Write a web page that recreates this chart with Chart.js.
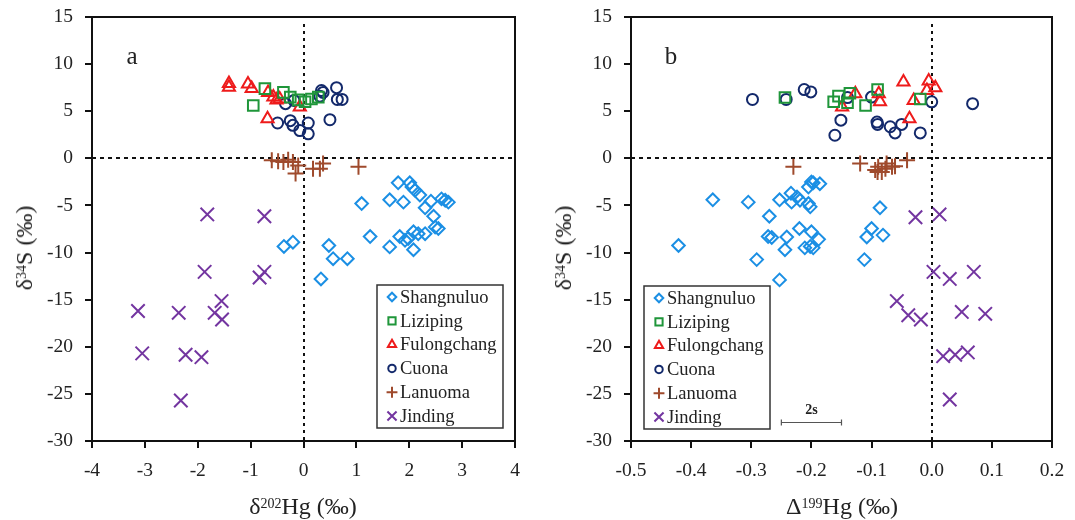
<!DOCTYPE html>
<html>
<head>
<meta charset="utf-8">
<script src="https://cdn.jsdelivr.net/npm/chart.js@4.4.1/dist/chart.umd.min.js"></script>
<style>
  body { margin: 0; background: #fff; }
  #wrap { position: relative; width: 1075px; height: 520px; font-family: "Liberation Serif", "Times New Roman", serif; color: #222; }
  canvas { position: absolute; top: 0; }
  .xt { position: absolute; top: 492px; font-size: 24px; line-height: 28px; transform: translateX(-50%); white-space: nowrap; }
  .yt { position: absolute; font-size: 24px; line-height: 28px; transform: translate(-50%, -50%) rotate(-90deg); white-space: nowrap; }
  .xt sup, .yt sup { font-size: 14px; position: relative; top: -2px; vertical-align: top; }
</style>
</head>
<body>
<div id="wrap">
  <canvas id="panelA" width="537" height="520" style="left:0"></canvas>
  <canvas id="panelB" width="538" height="520" style="left:537px"></canvas>
  <div class="xt" style="left:303px">δ<sup>202</sup>Hg (‰)</div>
  <div class="xt" style="left:842px">Δ<sup>199</sup>Hg (‰)</div>
  <div class="yt" style="left:24px;top:248px">δ<sup>34</sup>S (‰)</div>
  <div class="yt" style="left:563px;top:248px">δ<sup>34</sup>S (‰)</div>
</div>
<script>
// --- data ---
const yTicks = [-30, -25, -20, -15, -10, -5, 0, 5, 10, 15];
const xTicksA = [-4, -3, -2, -1, 0, 1, 2, 3, 4];
const xTicksB = [-0.5, -0.4, -0.3, -0.2, -0.1, 0.0, 0.1, 0.2];
const seriesNames = ['Shangnuluo', 'Liziping', 'Fulongchang', 'Cuona', 'Lanuoma', 'Jinding'];

// panel a: [δ202Hg, δ34S]
const shangnuluoA = [[1.79,-2.6],[2.01,-2.6],[2.05,-3.05],[2.11,-3.4],[2.2,-3.9],[1.63,-4.4],[1.89,-4.65],[2.41,-4.55],
  [2.61,-4.3],[2.68,-4.45],[2.74,-4.65],[2.3,-5.25],[1.1,-4.8],[2.46,-6.15],[2.55,-7.45],[2.49,-7.3],[2.3,-8.0],[2.17,-8.0],
  [2.08,-7.8],[1.98,-8.5],[1.92,-8.7],[1.82,-8.3],[1.63,-9.4],[2.08,-9.7],[1.26,-8.3],[0.48,-9.25],[0.56,-10.65],
  [0.83,-10.65],[0.33,-12.8],[-0.37,-9.35],[-0.2,-8.9]];
const lizipingA = [[-0.95,5.6],[-0.73,7.4],[-0.38,7.0],[-0.25,6.5],[-0.1,6.2],[0.03,6.0],[0.15,6.3],[0.28,6.5]];
const fulongchangA = [[-1.41,7.95],[-1.41,7.55],[-1.05,7.9],[-0.98,7.4],[-0.67,7.0],[-0.57,6.5],[-0.51,6.2],[-0.45,6.3],
  [-0.07,5.45],[-0.68,4.2]];
const cuonaA = [[0.34,7.2],[0.625,7.5],[0.31,6.6],[0.37,7.0],[0.64,6.25],[0.73,6.25],[-0.34,5.8],[-0.18,6.15],[-0.49,3.75],
  [-0.25,4.0],[-0.2,3.5],[-0.07,2.95],[0.09,3.75],[0.09,2.6],[0.5,4.1]];
const lanuomaA = [[-0.6,-0.2],[-0.48,-0.3],[-0.38,-0.4],[-0.29,-0.15],[-0.2,-0.4],[-0.1,-0.75],[-0.15,-1.6],[0.18,-1.1],
  [0.31,-1.1],[0.37,-0.55],[1.04,-0.9]];
const jindingA = [[-1.82,-5.95],[-0.74,-6.15],[-1.87,-12.05],[-0.74,-12.05],[-0.83,-12.65],[-1.55,-15.15],[-1.68,-16.4],
  [-1.54,-17.1],[-3.13,-16.2],[-2.36,-16.4],[-3.05,-20.7],[-2.23,-20.85],[-1.93,-21.1],[-2.32,-25.7]];

// panel b: [Δ199Hg, δ34S]
const shangnuluoB = [[-0.364,-4.4],[-0.421,-9.25],[-0.305,-4.65],[-0.27,-6.15],[-0.253,-4.4],[-0.234,-3.7],[-0.233,-4.65],
  [-0.224,-4.1],[-0.219,-4.45],[-0.205,-3.05],[-0.197,-2.6],[-0.186,-2.7],[-0.205,-4.8],[-0.202,-5.15],[-0.272,-8.3],
  [-0.266,-8.4],[-0.241,-8.35],[-0.22,-7.45],[-0.2,-7.8],[-0.244,-9.7],[-0.211,-9.5],[-0.202,-9.35],[-0.197,-9.5],
  [-0.188,-8.6],[-0.291,-10.75],[-0.253,-12.9],[-0.086,-5.25],[-0.1,-7.45],[-0.108,-8.35],[-0.081,-8.15],[-0.112,-10.75],
  [-0.2,-2.5]];
const lizipingB = [[-0.244,6.45],[-0.163,6.0],[-0.155,6.6],[-0.14,5.9],[-0.11,5.6],[-0.09,7.3],[-0.136,6.9],[-0.019,6.3]];
const fulongchangB = [[-0.127,6.85],[-0.149,5.45],[-0.088,6.85],[-0.086,6.0],[-0.047,8.1],[-0.03,6.15],[-0.005,8.2],
  [-0.008,7.2],[0.006,7.5],[-0.037,4.2]];
const cuonaB = [[-0.298,6.25],[-0.242,6.25],[-0.212,7.3],[-0.201,7.05],[-0.14,6.45],[-0.1,6.5],[-0.151,4.05],[-0.161,2.45],
  [-0.091,3.85],[-0.09,3.6],[-0.069,3.35],[-0.061,2.7],[-0.05,3.6],[-0.019,2.7],[0.0,6.0],[0.068,5.8]];
const lanuomaB = [[-0.23,-0.9],[-0.119,-0.55],[-0.089,-0.9],[-0.09,-1.45],[-0.077,-1.1],[-0.075,-0.55],[-0.066,-0.9],
  [-0.041,-0.2],[-0.094,-1.25],[-0.061,-0.85],[-0.083,-1.45]];
const jindingB = [[-0.027,-6.25],[0.013,-5.95],[0.003,-12.05],[0.03,-12.8],[0.07,-12.05],[-0.058,-15.15],[-0.039,-16.65],
  [-0.018,-17.1],[0.05,-16.3],[0.089,-16.5],[0.019,-21.0],[0.039,-20.85],[0.06,-20.6],[0.03,-25.6]];

// 2s analytical uncertainty bar on panel b (Δ199Hg units)
const scaleBarX = [-0.25, -0.15];
const scaleBarY = -28;

// --- styles ---
const FONT = '"Liberation Serif", "Times New Roman", serif';
const markers = [
  { pointStyle: 'rectRot', color: '#1b8fe4', radius: 6.3 },
  { pointStyle: 'rect', color: '#1f963a', radius: 7.5 },
  { pointStyle: 'triangle', color: '#ee1b1b', radius: 7 },
  { pointStyle: 'circle', color: '#13296b', radius: 5.5 },
  { pointStyle: 'cross', color: '#9f4a2c', radius: 8 },
  { pointStyle: 'crossRot', color: '#7335a0', radius: 9.5 },
];

const toXY = (arr) => arr.map(([x, y]) => ({ x, y }));

const decor = {
  id: 'decor',
  beforeDatasetsDraw(chart, args, o) {
    const { ctx, chartArea: a, scales: { x, y } } = chart;
    ctx.save();
    ctx.strokeStyle = '#111';
    ctx.lineWidth = 2;
    const y0 = Math.round(y.getPixelForValue(0));
    ctx.setLineDash([4, 4]);
    ctx.beginPath(); ctx.moveTo(a.left, y0); ctx.lineTo(a.right, y0); ctx.stroke();
    const x0 = Math.round(x.getPixelForValue(0));
    ctx.setLineDash([3, 4]);
    ctx.beginPath(); ctx.moveTo(x0, a.top + 7); ctx.lineTo(x0, a.bottom); ctx.stroke();
    ctx.restore();
  },
  afterDraw(chart, args, o) {
    const { ctx, chartArea: a, scales: { x, y } } = chart;
    ctx.save();
    // frame
    ctx.strokeStyle = '#111';
    ctx.lineWidth = 2;
    ctx.strokeRect(a.left, a.top, a.width, a.height);
    // panel letter
    ctx.fillStyle = '#222';
    ctx.font = '25px ' + FONT;
    ctx.textAlign = 'center';
    ctx.textBaseline = 'middle';
    ctx.fillText(o.letter, a.left + 40, a.top + 40);

    // legend box
    const bx = a.left + o.legendX, by = a.top + o.legendY, bw = 126, bh = 143;
    ctx.fillStyle = '#fff';
    ctx.fillRect(bx, by, bw, bh);
    ctx.strokeStyle = '#333';
    ctx.lineWidth = 1.5;
    ctx.strokeRect(bx, by, bw, bh);
    ctx.font = '18.5px ' + FONT;
    ctx.textAlign = 'left';
    chart.data.datasets.forEach((ds, i) => {
      const m = markers[i];
      const ry = by + 12 + i * 23.8;
      ctx.strokeStyle = m.color;
      ctx.fillStyle = 'rgba(0,0,0,0)';
      ctx.lineWidth = 2;
      Chart.helpers.drawPoint(ctx, { pointStyle: m.pointStyle, radius: m.radius * 0.68, rotation: 0, borderWidth: 2 }, bx + 15, ry);
      ctx.fillStyle = '#222';
      ctx.fillText(ds.label, bx + 23, ry + 1);
    });

    // 2s bar
    if (o.bar) {
      const x1 = x.getPixelForValue(scaleBarX[0]), x2 = x.getPixelForValue(scaleBarX[1]);
      const yb = Math.round(y.getPixelForValue(scaleBarY)) + 0.5;
      ctx.strokeStyle = '#555';
      ctx.lineWidth = 1.2;
      ctx.beginPath();
      ctx.moveTo(x1, yb); ctx.lineTo(x2, yb);
      ctx.moveTo(x1, yb - 3); ctx.lineTo(x1, yb + 3);
      ctx.moveTo(x2, yb - 3); ctx.lineTo(x2, yb + 3);
      ctx.stroke();
      ctx.fillStyle = '#222';
      ctx.font = 'bold 14px ' + FONT;
      ctx.textAlign = 'center';
      ctx.fillText('2s', (x1 + x2) / 2, yb - 12);
    }
    ctx.restore();
  }
};

function makePanel(canvasId, sets, xTicks, xMin, xMax, yAxisWidth, padRight, decorOpts, digits) {
  const axisCommon = {
    type: 'linear',
    grid: { drawOnChartArea: false, drawTicks: true, tickLength: 7, color: '#111', lineWidth: 2 },
    border: { display: true, color: '#111', width: 2 },
  };
  return new Chart(document.getElementById(canvasId), {
    type: 'scatter',
    data: {
      datasets: sets.map((pts, i) => ({
        label: seriesNames[i],
        data: toXY(pts),
        pointStyle: markers[i].pointStyle,
        pointRadius: markers[i].radius,
        pointHoverRadius: markers[i].radius,
        pointBorderWidth: 2,
        borderColor: markers[i].color,
        backgroundColor: 'rgba(0,0,0,0)',
      })),
    },
    options: {
      responsive: false,
      animation: false,
      layout: { padding: { left: 0, top: 17, right: padRight, bottom: 0 } },
      plugins: { legend: { display: false }, tooltip: { enabled: false }, decor: decorOpts },
      scales: {
        x: {
          ...axisCommon,
          min: xMin, max: xMax,
          afterBuildTicks: (s) => { s.ticks = xTicks.map((v) => ({ value: v })); },
          afterFit: (s) => { s.height = 79; s.paddingLeft = 0; s.paddingRight = 0; },
          ticks: {
            color: '#222', font: { family: FONT, size: 19.5 }, padding: 11, autoSkip: false, maxRotation: 0,
            callback: (v) => (digits ? Number(v).toFixed(digits) : String(v)),
          },
        },
        y: {
          ...axisCommon,
          min: -30, max: 15,
          afterBuildTicks: (s) => { s.ticks = yTicks.map((v) => ({ value: v })); },
          afterFit: (s) => { s.width = yAxisWidth; s.paddingTop = 0; s.paddingBottom = 0; },
          ticks: { color: '#222', font: { family: FONT, size: 19.5 }, padding: 12, autoSkip: false },
        },
      },
    },
    plugins: [decor],
  });
}

makePanel('panelA', [shangnuluoA, lizipingA, fulongchangA, cuonaA, lanuomaA, jindingA],
  xTicksA, -4, 4, 92, 22, { letter: 'a', legendX: 285, legendY: 268, bar: false }, 0);
makePanel('panelB', [shangnuluoB, lizipingB, fulongchangB, cuonaB, lanuomaB, jindingB],
  xTicksB, -0.5, 0.2, 94, 23, { letter: 'b', legendX: 13, legendY: 269, bar: true }, 1);
</script>
</body>
</html>
